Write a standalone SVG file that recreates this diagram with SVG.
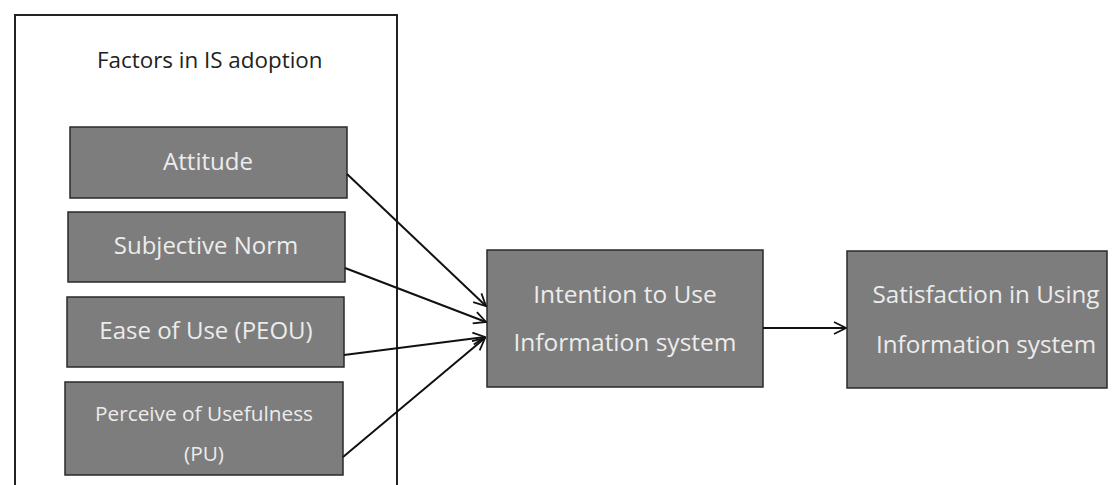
<svg xmlns="http://www.w3.org/2000/svg" width="1115" height="485" viewBox="0 0 1115 485">
  <defs>
    <marker id="arrow" viewBox="0 0 14 14" refX="13" refY="7" markerWidth="14" markerHeight="14" markerUnits="userSpaceOnUse" orient="auto">
      <path d="M1,1 L13,7 L1,13" fill="none" stroke="#111" stroke-width="1.8"/>
    </marker>
  </defs>
  <style>
    .frame { fill: none; stroke: #222; stroke-width: 2; }
    .box { fill: #7d7d7d; stroke: #2a2a2a; stroke-width: 1.5; }
    .lbl { font-family: "Open Sans", "Noto Sans", sans-serif; fill: #ececec; text-anchor: middle; }
    .title { font-family: "Open Sans", "Noto Sans", sans-serif; fill: #222; font-size: 22.4px; }
    .link { stroke: #111; stroke-width: 2; fill: none; marker-end: url(#arrow); }
  </style>
  <rect width="1115" height="485" fill="#ffffff"/>

  <!-- Factors group frame -->
  <g id="factors-frame">
    <path class="frame" d="M15,490 L15,15 L397,15 L397,490"/>
    <text class="title" x="97" y="68">Factors in IS adoption</text>
  </g>

  <g id="attitude">
    <rect class="box" x="70" y="127" width="277" height="71"/>
    <text class="lbl" x="208" y="170" font-size="24">Attitude</text>
  </g>
  <g id="subjective-norm">
    <rect class="box" x="68" y="212" width="277" height="70"/>
    <text class="lbl" x="206" y="254" font-size="24">Subjective Norm</text>
  </g>
  <g id="ease-of-use">
    <rect class="box" x="67" y="297" width="277" height="70"/>
    <text class="lbl" x="206" y="339" font-size="24">Ease of Use (PEOU)</text>
  </g>
  <g id="usefulness">
    <rect class="box" x="65" y="382" width="278" height="93"/>
    <text class="lbl" x="204" y="421" font-size="20.8">Perceive of Usefulness</text>
    <text class="lbl" x="204" y="461" font-size="20.8">(PU)</text>
  </g>
  <g id="intention">
    <rect class="box" x="487" y="250" width="276" height="137"/>
    <text class="lbl" x="625" y="303" font-size="24.5">Intention to Use</text>
    <text class="lbl" x="625" y="351" font-size="24.5">Information system</text>
  </g>
  <g id="satisfaction">
    <rect class="box" x="847" y="251" width="260" height="137"/>
    <text class="lbl" x="986" y="303" font-size="24.2">Satisfaction in Using</text>
    <text class="lbl" x="986" y="353" font-size="24.2">Information system</text>
  </g>

  <g id="connectors">
    <line class="link" x1="347" y1="174" x2="486" y2="306"/>
    <line class="link" x1="345" y1="268" x2="486" y2="322"/>
    <line class="link" x1="344" y1="355" x2="485" y2="337"/>
    <line class="link" x1="343" y1="457" x2="485" y2="338"/>
    <line class="link" x1="763" y1="328" x2="846" y2="328"/>
  </g>
</svg>
